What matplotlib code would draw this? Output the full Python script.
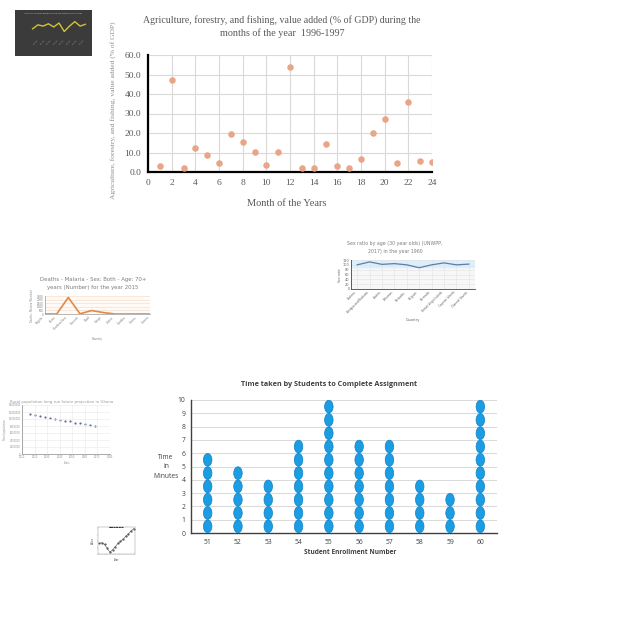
import matplotlib
matplotlib.use("Agg")
import matplotlib.pyplot as plt
from matplotlib.patches import Ellipse

# ---- data ----
months = list(range(1, 25))
agri_values = [3.3, 47.4, 2.1, 12.1, 8.8, 4.5, 19.7, 15.3, 10.5, 3.4, 10.5, 54.0,
               2.2, 2.1, 14.5, 2.9, 1.9, 6.9, 20.2, 27.4, 4.5, 35.7, 5.7, 5.2]

students = ["51", "52", "53", "54", "55", "56", "57", "58", "59", "60"]
minutes = [6, 5, 4, 7, 10, 7, 7, 4, 3, 10]

malaria_countries = ["Angola", "Benin", "Burkina Faso", "Burundi", "Chad",
                     "Congo", "Gabon", "Gambia", "Ghana", "Guinea"]
malaria_deaths = [0, 0, 2300, 30, 480, 200, 0, 0, 0, 0]

sex_countries = ["Andorra", "Antigua and Barbuda", "Austria", "Bahamas", "Barbados",
                 "Belgium", "Bermuda", "British Virgin Islands", "Cayman Islands", "Channel Islands"]
sex_ratio = [100, 112, 102, 105, 100, 88, 100, 108, 100, 103]

rural_years = [2016, 2020, 2024, 2028, 2032, 2036, 2040, 2044, 2048, 2052, 2056, 2060, 2064, 2068]
rural_pop = [11400000, 11100000, 10800000, 10550000, 10300000, 10050000, 9800000,
             9550000, 9300000, 9000000, 8750000, 8500000, 8200000, 7900000]

tiny_x = list(range(14))
tiny_y = [0.41, 0.44, 0.37, 0.22, 0.07, 0.16, 0.28, 0.41, 0.49, 0.57, 0.69, 0.78, 0.90, 0.99]

thumb_x = list(range(11))
thumb_y = [0.40, 0.62, 0.55, 0.68, 0.50, 0.72, 0.25, 0.55, 0.80, 0.55, 0.65]

W = H = 640.0


def rect(l, t, r, b):
    return [l / W, 1 - b / H, (r - l) / W, (b - t) / H]


def px(x, y):
    return x / W, 1 - y / H


fig = plt.figure(figsize=(6.4, 6.4), dpi=100)
fig.patch.set_facecolor("white")

# ---- thumbnail (dark) ----
bg = fig.add_axes(rect(15, 10, 92, 56))
bg.set_facecolor("#3b3b3b")
bg.set_xticks([]); bg.set_yticks([])
for s in bg.spines.values():
    s.set_visible(False)
th = fig.add_axes(rect(30, 18, 88, 36))
th.set_facecolor("none")
th.plot(thumb_x, thumb_y, color="#d4c232", lw=1.0)
th.set_ylim(0, 1)
th.set_xticks([]); th.set_yticks([])
for s in th.spines.values():
    s.set_visible(False)
fig.text(*px(53, 13), "Agriculture value added during the months of the year",
         fontsize=1.5, color="#cccccc", ha="center", va="center")
for i in range(8):
    fig.text(*px(36 + i * 6.5, 42), "Month", fontsize=1.6, color="#9a9a9a",
             ha="center", va="center", rotation=45)

# ---- main scatter ----
gray_txt = "#595959"
serif = "Liberation Serif"
ax = fig.add_axes(rect(148, 55, 432, 172))
ax.scatter(months, agri_values, s=22, color="#e8a587", zorder=3, linewidths=0)
ax.set_xlim(0, 24)
ax.set_ylim(0, 60)
ax.set_xticks(range(0, 25, 2))
ax.set_yticks(range(0, 61, 10))
ax.set_yticklabels([f"{v:.1f}" for v in range(0, 61, 10)])
ax.grid(True, color="#d9d9d9", lw=0.8)
ax.set_axisbelow(True)
ax.tick_params(length=0, labelsize=6.8, labelcolor=gray_txt, pad=5)
for lab in ax.get_xticklabels() + ax.get_yticklabels():
    lab.set_family(serif)
ax.spines["left"].set_color("black")
ax.spines["left"].set_linewidth(1.6)
ax.spines["bottom"].set_color("black")
ax.spines["bottom"].set_linewidth(1.6)
ax.spines["top"].set_visible(False)
ax.spines["right"].set_visible(False)
fig.text(*px(282, 20), "Agriculture, forestry, and fishing, value added (% of GDP) during the",
         fontsize=7.1, family=serif, color=gray_txt, ha="center", va="center")
fig.text(*px(282, 33), "months of the year  1996-1997",
         fontsize=7.3, family=serif, color=gray_txt, ha="center", va="center")
fig.text(*px(287, 204), "Month of the Years",
         fontsize=7.5, family=serif, color=gray_txt, ha="center", va="center")
fig.text(*px(113, 110), "Agriculture, forestry, and fishing, value added (% of GDP)",
         fontsize=5.4, family=serif, color="#8c8c8c", ha="center", va="center", rotation=90)

# ---- malaria line ----
ma = fig.add_axes(rect(45, 296, 150, 314))
ma.set_facecolor("#fffaf5")
ma.plot(range(len(malaria_countries)), malaria_deaths, color="#e08a4a", lw=1.2)
ma.set_xlim(0, len(malaria_countries) - 1)
ma.set_ylim(0, 2500)
ma.set_yticks(range(0, 2501, 500))
ma.set_xticks(range(len(malaria_countries)))
ma.set_xticklabels(malaria_countries, rotation=45, ha="right", fontsize=2, color="#808080")
ma.tick_params(axis="y", labelsize=2, labelcolor="#808080", length=0, pad=1)
ma.tick_params(axis="x", length=0, pad=1)
ma.grid(True, axis="y", color="#f5d9c3", lw=0.4)
for s in ["top", "right"]:
    ma.spines[s].set_visible(False)
ma.spines["left"].set_color("#999999"); ma.spines["left"].set_linewidth(0.5)
ma.spines["bottom"].set_color("#999999"); ma.spines["bottom"].set_linewidth(0.5)
fig.text(*px(93, 280), "Deaths - Malaria - Sex: Both - Age: 70+", fontsize=3.9,
         color="#7f7f7f", ha="center", va="center")
fig.text(*px(93, 288), "years (Number) for the year 2015", fontsize=3.9,
         color="#7f7f7f", ha="center", va="center")
fig.text(*px(97, 339), "Country", fontsize=2, color="#808080", ha="center", va="center")
fig.text(*px(32, 305), "Deaths - Malaria (Number)", fontsize=1.8, color="#808080",
         ha="center", va="center", rotation=90)

# ---- sex ratio line ----
sx = fig.add_axes(rect(351, 260, 475, 289))
sx.set_facecolor("#f7f7f7")
sx.axhspan(90, 120, color="#deeefa", zorder=0)
sx.plot(range(len(sex_countries)), sex_ratio, color="#5a7fa8", lw=0.9)
sx.set_xlim(-0.5, len(sex_countries) - 0.5)
sx.set_ylim(0, 120)
sx.set_yticks(range(0, 121, 20))
sx.set_xticks(range(len(sex_countries)))
sx.set_xticklabels(sex_countries, rotation=45, ha="right", fontsize=2, color="#606060")
sx.tick_params(axis="y", labelsize=2.5, labelcolor="#606060", length=0, pad=1)
sx.tick_params(axis="x", length=0, pad=1)
sx.grid(True, color="#e3e3e3", lw=0.4)
for s in ["top", "right"]:
    sx.spines[s].set_visible(False)
sx.spines["left"].set_color("#444444"); sx.spines["left"].set_linewidth(0.6)
sx.spines["bottom"].set_color("#444444"); sx.spines["bottom"].set_linewidth(0.6)
fig.text(*px(395, 244), "Sex ratio by age (30 year olds) (UNWPP,", fontsize=3.4,
         color="#7f7f7f", ha="center", va="center")
fig.text(*px(395, 252), "2017) in the year 1960", fontsize=3.4,
         color="#7f7f7f", ha="center", va="center")
fig.text(*px(413, 320), "Country", fontsize=2.5, color="#606060", ha="center", va="center")
fig.text(*px(340, 275), "Sex ratio", fontsize=2.2, color="#606060",
         ha="center", va="center", rotation=90)

# ---- rural population scatter ----
ru = fig.add_axes(rect(22, 405, 110, 454))
ru.scatter(rural_years, rural_pop, s=2.5, color="#5b6f95", linewidths=0)
ru.set_xlim(2010, 2080)
ru.set_ylim(0, 14000000)
ru.set_xticks(range(2010, 2081, 10))
ru.set_yticks(range(0, 14000001, 2000000))
ru.ticklabel_format(style="plain", axis="y")
ru.tick_params(labelsize=1.8, labelcolor="#909090", length=0, pad=1)
ru.grid(True, color="#e8e8e8", lw=0.4)
for s in ["top", "right"]:
    ru.spines[s].set_visible(False)
ru.spines["left"].set_color("#888888"); ru.spines["left"].set_linewidth(0.5)
ru.spines["bottom"].set_color("#888888"); ru.spines["bottom"].set_linewidth(0.5)
fig.text(*px(62, 402), "Rural population long run future projection in Ghana", fontsize=2.8,
         color="#9a9a9a", ha="center", va="center")
fig.text(*px(66, 463), "Years", fontsize=1.8, color="#909090", ha="center", va="center")
fig.text(*px(5, 430), "Rural population", fontsize=1.8, color="#909090",
         ha="center", va="center", rotation=90)

# ---- tiny line chart ----
tn = fig.add_axes(rect(98, 527, 135, 554))
tn.plot(tiny_x, tiny_y, color="#555555", lw=0.4, marker="o", ms=0.6)
tn.set_ylim(0, 1.05)
tn.set_xlim(-0.5, 13.5)
tn.set_xticks(tiny_x)
tn.set_xticklabels([""] * len(tiny_x))
tn.set_yticks([0, 0.25, 0.5, 0.75, 1.0])
tn.set_yticklabels([""] * 5)
tn.tick_params(length=1, width=0.3, color="#888888")
for s in tn.spines.values():
    s.set_linewidth(0.3)
    s.set_color("#888888")
fig.text(*px(117, 527), "▬▬▬▬▬▬", fontsize=2, color="#333333", ha="center", va="center")
fig.text(*px(116, 560), "Year", fontsize=1.8, color="#333333", ha="center", va="center")
fig.text(*px(93, 540), "Value", fontsize=1.8, color="#333333", ha="center", va="center",
         rotation=90)

# ---- dot plot ----
dp = fig.add_axes(rect(191, 400, 497, 533))
sans = "Open Sans"
for i, n in enumerate(minutes):
    for k in range(n):
        dp.add_patch(Ellipse((i, k + 0.5), 0.28, 0.96, facecolor="#1a9de2",
                             edgecolor="#1380c4", lw=0.5, zorder=3))
dp.set_xlim(-0.55, len(students) - 0.45)
dp.set_ylim(0, 10)
dp.set_xticks(range(len(students)))
dp.set_xticklabels(students)
dp.set_yticks(range(0, 11))
dp.grid(True, axis="y", color="#d9d9d9", lw=0.7)
dp.set_axisbelow(True)
dp.tick_params(length=0, labelsize=4.9, labelcolor="#404040", pad=4)
for lab in dp.get_xticklabels() + dp.get_yticklabels():
    lab.set_family(sans)
dp.spines["top"].set_visible(False)
dp.spines["right"].set_visible(False)
dp.spines["left"].set_color("#404040"); dp.spines["left"].set_linewidth(1.0)
dp.spines["bottom"].set_color("#404040"); dp.spines["bottom"].set_linewidth(1.0)
fig.text(*px(329, 385), "Time taken by Students to Complete Assignment", fontsize=5.2,
         family=sans, fontweight="bold", color="#404040", ha="center", va="center")
fig.text(*px(350, 553), "Student Enrollment Number", fontsize=4.7,
         family=sans, fontweight="bold", color="#404040", ha="center", va="center")
fig.text(*px(166, 467), "Time\nin\nMinutes", fontsize=4.8, family=sans,
         color="#404040", ha="center", va="center", linespacing=1.45)

fig.savefig("out.png", dpi=100)
